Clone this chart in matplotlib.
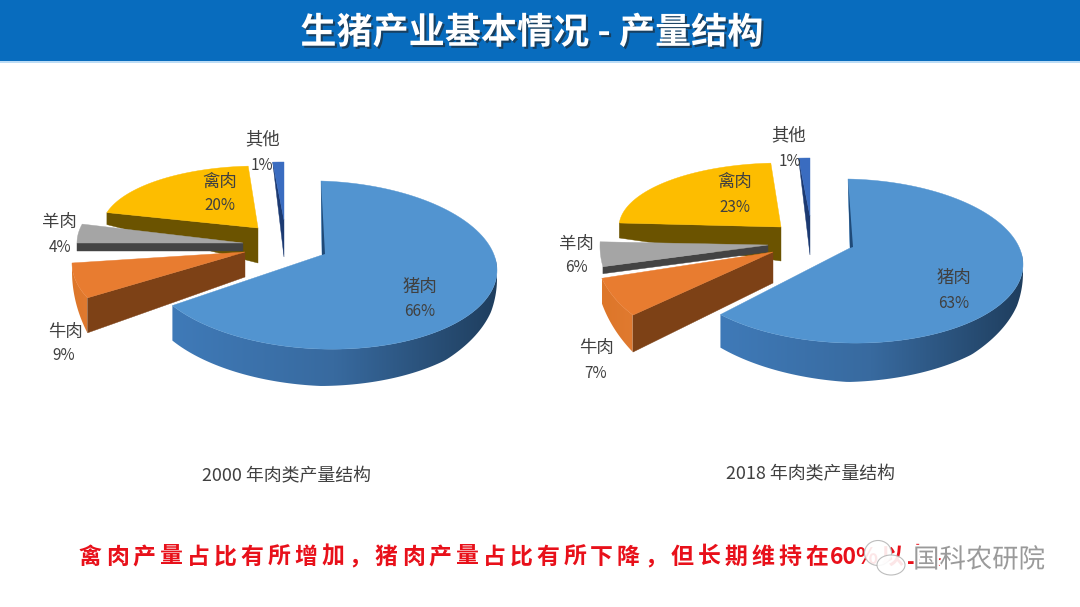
import numpy as np
import matplotlib
matplotlib.use('Agg')
import matplotlib.pyplot as plt
import matplotlib.patheffects as pe
from matplotlib.colors import to_rgb
from matplotlib.patches import Polygon, Rectangle, Ellipse

plt.rcParams['font.family'] = ['Noto Sans CJK SC', 'DejaVu Sans']

# 数据
categories = ['猪肉', '牛肉', '羊肉', '禽肉', '其他']
values_2000 = [66, 9, 4, 20, 1]
values_2018 = [63, 7, 6, 23, 1]
title_text = '生猪产业基本情况 - 产量结构'
caption_2000 = '2000 年肉类产量结构'
caption_2018 = '2018 年肉类产量结构'
note_chars = list('禽肉产量占比有所增加，猪肉产量占比有所下降，但长期维持在') + ['60%', '以', '上', '。']
watermark = '国科农研院'

top_cols = {'猪肉': '#5294d0', '牛肉': '#e87c30', '羊肉': '#a5a5a5', '禽肉': '#fdbd00', '其他': '#3a6cc0'}
face_cols = {'牛肉': '#7d4116', '羊肉': '#434343', '禽肉': '#6b5300', '其他': '#1c3a72'}
main_wall = ['#3f7ab8', '#386a9f', '#1f3e5e']
beef_wall = ['#dd7629', '#e07a30']

# 每块的几何参数(像素)
style_2000 = {
    '猪肉': dict(apex=(322, 255), c=(321, 265), r=(176, 84), s=0.03,
                 wall=([-148, -90, -45, -15, 8], [35, 37, 32, 20, 2], main_wall),
                 notch=3),
    '牛肉': dict(apex=(245, 252), c=(172, 263), r=(100, 65), s=0,
                 face=(25, 35),
                 wall=([-180, -148], [8, 35], beef_wall)),
    '羊肉': dict(apex=(243, 243), c=(243, 243), r=(166, 76), s=0,
                 face=(8, 8)),
    '禽肉': dict(apex=(258, 228), c=(258, 228), r=(156, 62), s=0,
                 face=(35, 12)),
    '其他': dict(apex=(284, 220), c=(284, 220), r=(180, 58), s=0,
                 face=(37, 0)),
}
style_2018 = {
    '猪肉': dict(apex=(850, 248), c=(848, 261), r=(175, 82), s=0.02,
                 wall=([-137, -90, -45, -15, 8], [33, 39, 33, 20, 2], main_wall),
                 notch=3),
    '牛肉': dict(apex=(773, 252), c=(735, 248), r=(140, 98), s=0,
                 face=(31, 37),
                 wall=([-162, -137], [25, 37], beef_wall)),
    '羊肉': dict(apex=(768, 245), c=(660, 246), r=(60, 67), s=0,
                 face=(7, 7)),
    '禽肉': dict(apex=(781, 227), c=(781, 227), r=(162, 64), s=0,
                 face=(34, 15)),
    '其他': dict(apex=(810, 216), c=(810, 216), r=(182, 58), s=0,
                 face=(39, 0)),
}

labels_2000 = {
    '猪肉': (420, 287, 420, 312), '牛肉': (65, 332, 64, 356), '羊肉': (59, 222, 60, 248),
    '禽肉': (220, 182, 220, 206), '其他': (263, 139, 262, 165),
}
labels_2018 = {
    '猪肉': (954, 278, 954, 304), '牛肉': (596, 348, 596, 374), '羊肉': (576, 244, 576, 268),
    '禽肉': (735, 182, 735, 207), '其他': (789, 135, 790, 161),
}

fig = plt.figure(figsize=(10.8, 6.07), dpi=100, facecolor='white')
ax = fig.add_axes([0, 0, 1, 1])
ax.axis('off')


def arc_pt(st, deg):
    t = np.radians(deg)
    x = st['c'][0] + st['r'][0] * np.cos(t)
    y = st['c'][1] - st['r'][1] * np.sin(t) + st['s'] * (x - st['c'][0])
    return x, y


def draw_wall(st, th1, th2, z):
    angs, hs, cols = st['wall']
    tw = np.linspace(max(th2, angs[0]), min(th1, angs[-1]), 120)
    wx, wy = arc_pt(st, tw)
    wb = wy + np.interp(tw, angs, hs)
    pts = list(zip(wx, wy)) + list(zip(wx[::-1], wb[::-1]))
    # 渐变色用图片填充再裁剪
    cs = np.array([to_rgb(c) for c in cols])
    f = np.linspace(0, 1, 256)
    grad = np.stack([np.interp(f, np.linspace(0, 1, len(cs)), cs[:, i]) for i in range(3)], axis=-1)[None, :, :]
    im = ax.imshow(grad, extent=(wx.min(), wx.max(), wb.max(), wy.min()), aspect='auto', zorder=z)
    im.set_clip_path(Polygon(pts, closed=True, transform=ax.transData))


def draw_slice(name, th1, th2, st, z):
    # th1 > th2, 顺时针
    ts = np.linspace(th1, th2, 120)
    xs, ys = arc_pt(st, ts)
    if 'wall' in st:
        draw_wall(st, th1, th2, z)
    ax0, ay0 = st['apex']
    if 'face' in st:
        h_a, h_o = st['face']
        x, y = arc_pt(st, th1)
        col = face_cols[name]
        ax.add_patch(Polygon([(ax0, ay0), (x, y), (x, y + h_o), (ax0, ay0 + h_a)], closed=True,
                             fc=col, ec=col, lw=0.3, zorder=z + 0.1))
    pts = [st['apex']] + list(zip(xs, ys))
    ax.add_patch(Polygon(pts, closed=True, fc=top_cols[name], ec=top_cols[name], lw=0.3, zorder=z + 0.2))
    if 'notch' in st:
        x0, y0 = arc_pt(st, th1)
        ax.add_patch(Polygon([(x0, y0), (ax0, ay0), (ax0 + st['notch'], ay0 - 1)], closed=True,
                             fc='#1f4a78', ec='none', zorder=z + 0.3))


def draw_pie(values, style, labels):
    cw = np.concatenate([[0], np.cumsum(values)]) * 3.6
    # 从后往前画
    order = ['其他', '禽肉', '羊肉', '牛肉', '猪肉']
    for z, name in enumerate(order):
        i = categories.index(name)
        draw_slice(name, 90 - cw[i], 90 - cw[i + 1], style[name], 2 + z)
    for name, v in zip(categories, values):
        x1, y1, x2, y2 = labels[name]
        ax.text(x1, y1, name, fontsize=12.5, color='#404040', ha='center', va='center', zorder=10)
        ax.text(x2, y2, f'{v}%', fontsize=11, color='#404040', ha='center', va='center', zorder=10)


# 标题栏
ax.add_patch(Rectangle((0, 0), 1080, 61, fc='#086cbe', ec='none', zorder=1))
ax.add_patch(Rectangle((0, 61), 1080, 2, fc='#bcdcf5', ec='none', zorder=1))
ax.text(532, 33, title_text, fontsize=26, fontweight='bold', color='white', ha='center', va='center', zorder=3,
        path_effects=[pe.withSimplePatchShadow(offset=(1.5, -1.5), shadow_rgbFace='#222222', alpha=0.6)])

draw_pie(values_2000, style_2000, labels_2000)
draw_pie(values_2018, style_2018, labels_2018)

ax.text(286, 476, caption_2000, fontsize=12.9, color='#404040', ha='center', va='center')
ax.text(811, 474, caption_2018, fontsize=12.9, color='#404040', ha='center', va='center')

# 底部红字
px = 78.0
for ch in note_chars:
    w = 48 if ch == '60%' else 26.9
    ax.text(px + w / 2 - 1, 557, ch, fontsize=16.5, fontweight='bold', color='#e8101a',
            ha='center', va='center', zorder=5)
    px += w

# 水印
for cx, cy, w, h in [(878, 553, 27, 25), (891, 565, 28, 20)]:
    ax.add_patch(Ellipse((cx, cy), w, h, fc='white', ec='#b5b5b5', lw=0.8, alpha=0.9, zorder=6))
ax.text(979, 560, watermark, fontsize=19, color='#9a9a9a', ha='center', va='center', zorder=7,
        path_effects=[pe.withStroke(linewidth=2.5, foreground='white')])

ax.set_xlim(0, 1080)
ax.set_ylim(607, 0)
fig.savefig('out.png', dpi=100)
